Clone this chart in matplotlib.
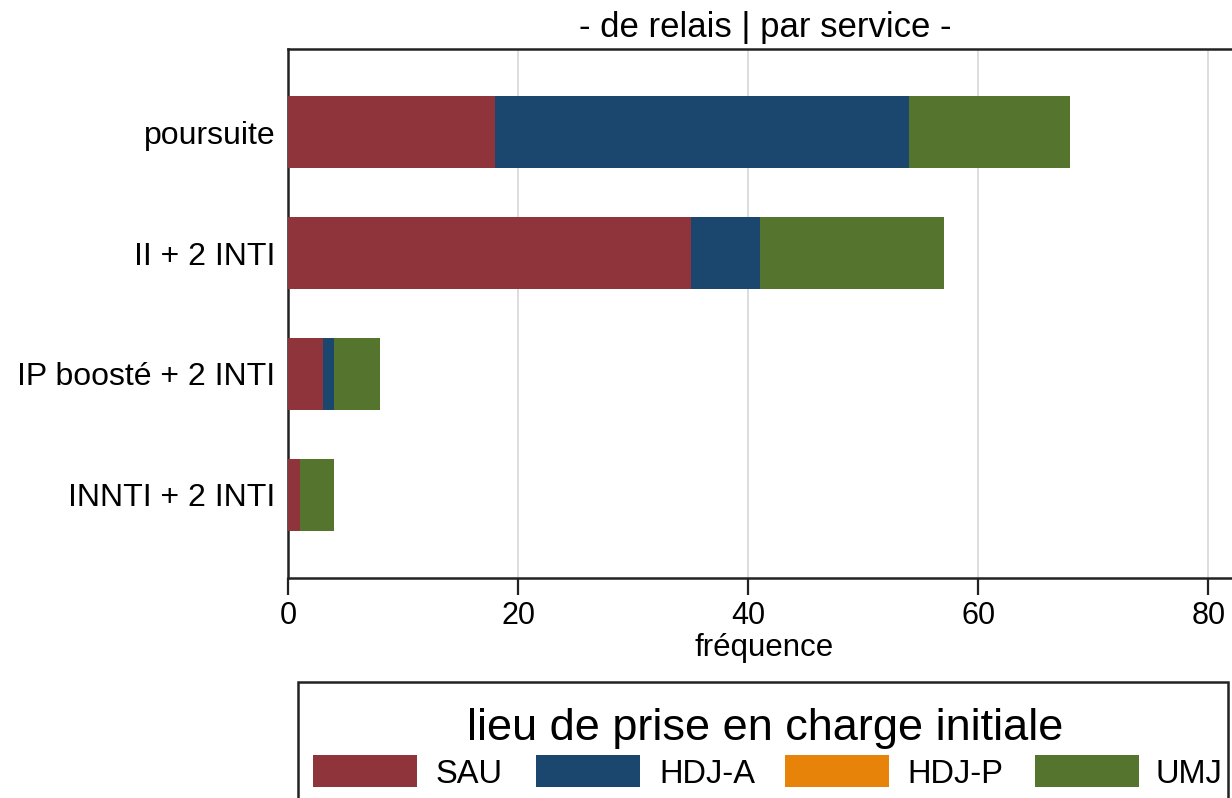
import matplotlib
matplotlib.use("Agg")
import matplotlib.pyplot as plt
from matplotlib.patches import Rectangle
import numpy as np

plt.rcParams['font.family'] = ['Liberation Sans', 'DejaVu Sans']

categories = ["poursuite", "II + 2 INTI", "IP boosté + 2 INTI", "INNTI + 2 INTI"]
series_names = ["SAU", "HDJ-A", "HDJ-P", "UMJ"]
sau = [18, 35, 3, 1]
hdj_a = [36, 6, 1, 0]
hdj_p = [0, 0, 0, 0]
umj = [14, 16, 4, 3]
xticks = [0, 20, 40, 60, 80]
title = "- de relais | par service -"
xlabel = "fréquence"
legend_title = "lieu de prise en charge initiale"

colors = ["#8F343B", "#1B476E", "#E8830A", "#55752F"]

W, H = 1232, 798
fig = plt.figure(figsize=(W / 100, H / 100), dpi=100)
ax = fig.add_axes([288 / W, 1 - 578 / H, 964 / W, (578 - 49) / H])

y = np.arange(len(categories))
left = np.zeros(len(categories))
for name, vals, c in zip(series_names, [sau, hdj_a, hdj_p, umj], colors):
    ax.barh(y, vals, left=left, height=0.59, color=c, label=name, zorder=3)
    left += np.array(vals)

ax.set_xlim(0, 83.8)
ax.set_ylim(3.686, -0.686)
ax.set_yticks(y)
ax.set_yticklabels(categories, fontsize=23)
ax.set_xticks(xticks)
ax.set_xticklabels([str(t) for t in xticks], fontsize=22)
ax.tick_params(axis='y', length=0, pad=9)
ax.tick_params(axis='x', length=12, width=1.6, pad=4.5, direction='out', color="#222222")
for s in ax.spines.values():
    s.set_linewidth(1.8)
    s.set_color("#222222")
ax.xaxis.grid(True, color="#DADADA", linewidth=1.3, zorder=0)
ax.set_axisbelow(True)

fig.text(765 / W, 1 - 27 / H, title, ha='center', va='center', fontsize=25)
fig.text(764 / W, 1 - 656 / H, xlabel, ha='center', va='baseline', fontsize=22.5)

# legend box
fig.patches.append(Rectangle((298 / W, 1 - 830 / H), (1228 - 298) / W, (830 - 682) / H,
                             transform=fig.transFigure, fill=False, edgecolor="#222222",
                             linewidth=1.8))
fig.text(765 / W, 1 - 740 / H, legend_title, ha='center', va='baseline', fontsize=32.5)
sw_x = [313, 536, 785, 1035]
txt_x = [436, 659, 907, 1155]
for name, c, x0, tx in zip(series_names, colors, sw_x, txt_x):
    fig.patches.append(Rectangle((x0 / W, 1 - 787 / H), 104 / W, 32 / H,
                                 transform=fig.transFigure, facecolor=c, edgecolor='none'))
    fig.text(tx / W, 1 - 783 / H, name, ha='left', va='baseline', fontsize=23.5)

fig.savefig("out.png", dpi=100)
